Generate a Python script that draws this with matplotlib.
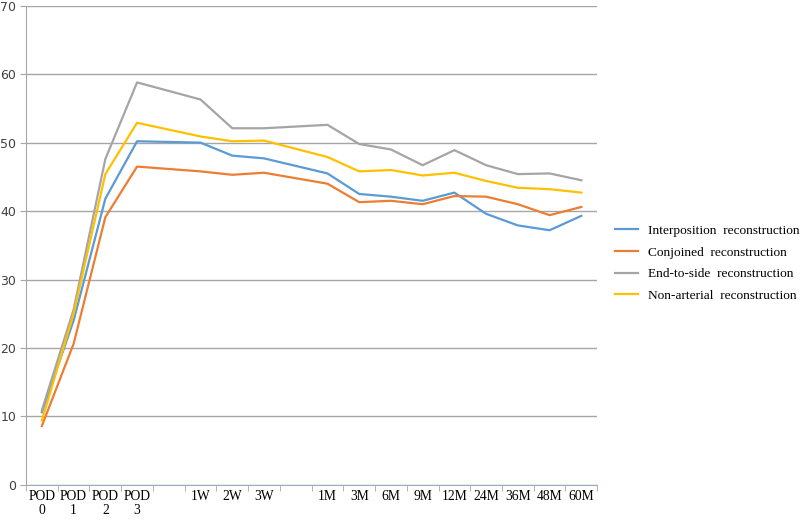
import numpy as np
import matplotlib
matplotlib.use('Agg')
import matplotlib.pyplot as plt
from matplotlib.ticker import FixedLocator

# categories along the x axis ('' = empty slot left in the sheet)
categories = ['POD\n0', 'POD\n1', 'POD\n2', 'POD\n3', '', '1W', '2W', '3W', '',
              '1M', '3M', '6M', '9M', '12M', '24M', '36M', '48M', '60M']

interposition = [10.6, 24.0, 41.8, 50.2, 50.0, 48.1, 47.7, 45.5, 42.5, 42.1,
                 41.5, 42.7, 39.6, 37.9, 37.2, 39.3]
conjoined = [8.6, 20.6, 39.1, 46.5, 45.8, 45.3, 45.6, 44.0, 41.3, 41.5,
             41.0, 42.2, 42.1, 41.0, 39.4, 40.6]
end_to_side = [10.9, 25.6, 47.6, 58.8, 56.3, 52.1, 52.1, 52.6, 49.8, 49.0,
               46.7, 48.9, 46.7, 45.4, 45.5, 44.5]
non_arterial = [9.4, 25.0, 45.4, 52.9, 50.9, 50.2, 50.3, 47.9, 45.8, 46.0,
                45.2, 45.6, 44.4, 43.4, 43.2, 42.7]

series = [
    ('Interposition  reconstruction', interposition, '#5B9BD5'),
    ('Conjoined  reconstruction', conjoined, '#ED7D31'),
    ('End-to-side  reconstruction', end_to_side, '#A5A5A5'),
    ('Non-arterial  reconstruction', non_arterial, '#FFC000'),
]

# positions of the filled categories (lines run straight over the empty ones)
xpos = [i for i, c in enumerate(categories) if c != '']

fig = plt.figure(figsize=(8, 5.23), dpi=100)
ax = fig.add_axes([0.0325, 0.073, 0.714, 0.916])

for name, vals, col in series:
    ax.plot(xpos, vals, color=col, lw=1.6, label=name, solid_joinstyle='round')

ax.set_xlim(-0.5, len(categories) - 0.5)
ax.set_ylim(0, 70)
ax.set_yticks(np.arange(0, 71, 10))
ax.yaxis.grid(True, color='#a6a6a6', lw=1)
ax.set_axisbelow(True)

ax.set_xticks(range(len(categories)))
ax.set_xticklabels(categories, family='Liberation Serif', fontsize=9.8,
                   linespacing=1.1)
ax.xaxis.set_minor_locator(FixedLocator(np.arange(-0.5, len(categories), 1)))
ax.tick_params(axis='x', which='major', length=0, pad=4)
ax.tick_params(axis='x', which='minor', length=4, color='#a6a6a6', direction='out')
ax.tick_params(axis='y', length=4, color='#a6a6a6', labelsize=9, pad=3,
               labelcolor='#404040')

for s in ['top', 'right']:
    ax.spines[s].set_visible(False)
ax.spines['left'].set_color('#a6a6a6')
ax.spines['bottom'].set_color('#9aaec4')

leg = fig.legend(loc='upper left', bbox_to_anchor=(0.764, 0.578), frameon=False,
                 prop={'family': 'Liberation Serif', 'size': 9.6},
                 handlelength=1.73, handletextpad=0.75, labelspacing=0.7,
                 borderaxespad=0, borderpad=0.3)
for ln in leg.get_lines():
    ln.set_linewidth(1.6)

fig.savefig('out.png', dpi=100)
